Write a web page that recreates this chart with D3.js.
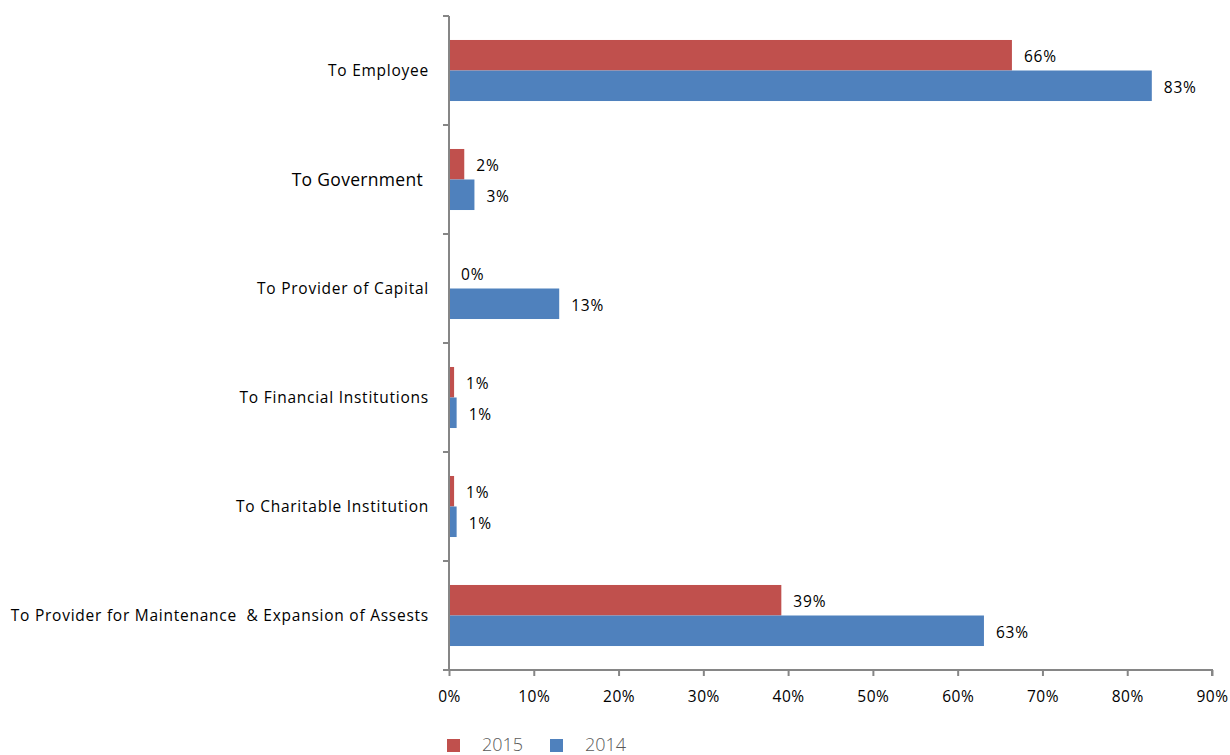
<!DOCTYPE html>
<html>
<head>
<meta charset="utf-8">
<script src="https://cdn.jsdelivr.net/npm/d3@7"></script>
<style>
  body { margin: 0; background: #fff; }
  svg { display: block; }
  text { font-family: "Open Sans", "DejaVu Sans", sans-serif; }
</style>
</head>
<body>
<svg id="chart" width="1230" height="755"></svg>
<script>
// Distribution of value added, by recipient (share of total)
const categories = [
  "To Employee",
  "To Government",
  "To Provider of Capital",
  "To Financial Institutions",
  "To Charitable Institution",
  "To Provider for Maintenance  & Expansion of Assests"
];
const seriesNames = ["2015", "2014"];
const values2015 = [0.664, 0.018, 0.0, 0.006, 0.006, 0.392];
const values2014 = [0.829, 0.030, 0.130, 0.009, 0.009, 0.631];
const xTicks = [0, 0.1, 0.2, 0.3, 0.4, 0.5, 0.6, 0.7, 0.8, 0.9];
const colors = ["#C0504D", "#4F81BD"];

const svg = d3.select("#chart");
const margin = { left: 449, right: 18, top: 16, bottom: 85 };
const W = 1230, H = 755;

const x = d3.scaleLinear().domain([0, 0.9]).range([margin.left, W - margin.right]);
const y = d3.scaleBand().domain(categories).range([margin.top, H - margin.bottom])
  .paddingInner(0.44).paddingOuter(0.22);
const ySub = d3.scaleBand().domain(seriesNames).range([0, y.bandwidth()]);

const rows = categories.map((c, i) => ({ cat: c, vals: [values2015[i], values2014[i]] }));
const pct = d3.format(".0%");

// bars + value labels
const g = svg.append("g").selectAll("g").data(rows).join("g")
  .attr("transform", d => `translate(0,${y(d.cat)})`);

g.selectAll("rect").data(d => d.vals.map((v, k) => ({ v, k })))
  .join("rect")
  .attr("x", x(0))
  .attr("y", d => ySub(seriesNames[d.k]))
  .attr("width", d => x(d.v) - x(0))
  .attr("height", ySub.bandwidth())
  .attr("fill", d => colors[d.k]);

g.selectAll("text.val").data(d => d.vals.map((v, k) => ({ v, k })))
  .join("text")
  .attr("class", "val")
  .attr("x", d => x(d.v) + 12)
  .attr("y", d => ySub(seriesNames[d.k]) + ySub.bandwidth() / 2 + 1.5)
  .attr("dy", "0.35em")
  .attr("font-size", 15.5)
  .attr("letter-spacing", 0.8)
  .attr("fill", "#000")
  .text(d => pct(d.v));

// category axis (vertical)
const axisColor = "#868686";
const yAxisG = svg.append("g");
yAxisG.append("line")
  .attr("x1", x(0)).attr("x2", x(0))
  .attr("y1", margin.top).attr("y2", H - margin.bottom)
  .attr("stroke", axisColor).attr("stroke-width", 2);
const bandEdges = d3.range(categories.length + 1).map(i =>
  margin.top + i * (H - margin.bottom - margin.top) / categories.length);
yAxisG.selectAll("line.tick").data(bandEdges).join("line")
  .attr("class", "tick")
  .attr("x1", x(0) - 6).attr("x2", x(0))
  .attr("y1", d => d).attr("y2", d => d)
  .attr("stroke", axisColor).attr("stroke-width", 2);
yAxisG.selectAll("text").data(categories).join("text")
  .attr("x", (d, i) => i === 1 ? 423 : 429)
  .attr("y", d => y(d) + y.bandwidth() / 2)
  .attr("dy", "0.35em")
  .attr("text-anchor", "end")
  .attr("font-size", (d, i) => i === 1 ? 17.5 : 15.5)
  .attr("letter-spacing", (d, i) => i === 1 ? 0.3 : 0.75)
  .attr("fill", "#000")
  .style("white-space", "pre")
  .text(d => d);

// value axis (horizontal)
const xAxis = d3.axisBottom(x).tickValues(xTicks).tickFormat(pct).tickSize(6).tickPadding(15);
const xg = svg.append("g").attr("transform", `translate(0,${H - margin.bottom})`).call(xAxis);
xg.select(".domain").attr("stroke", axisColor).attr("stroke-width", 2)
  .attr("d", `M${x(0)},0H${x(0.9)}V6`);
xg.selectAll(".tick line").attr("stroke", axisColor).attr("stroke-width", 2);
xg.selectAll(".tick text").attr("font-size", 15.5).attr("fill", "#000")
  .attr("letter-spacing", 0.5)
  .attr("font-family", "\"Open Sans\", \"DejaVu Sans\", sans-serif");

// legend
const legendX = [447, 550];
const lg = svg.append("g").selectAll("g").data(seriesNames).join("g")
  .attr("transform", (d, i) => `translate(${legendX[i]},739)`);
lg.append("rect").attr("width", 13).attr("height", 13).attr("fill", (d, i) => colors[i]);
lg.append("text").attr("x", 35).attr("y", 11.5)
  .attr("font-size", 18).attr("font-weight", 300).attr("fill", "#595959")
  .text(d => d);
</script>
</body>
</html>
